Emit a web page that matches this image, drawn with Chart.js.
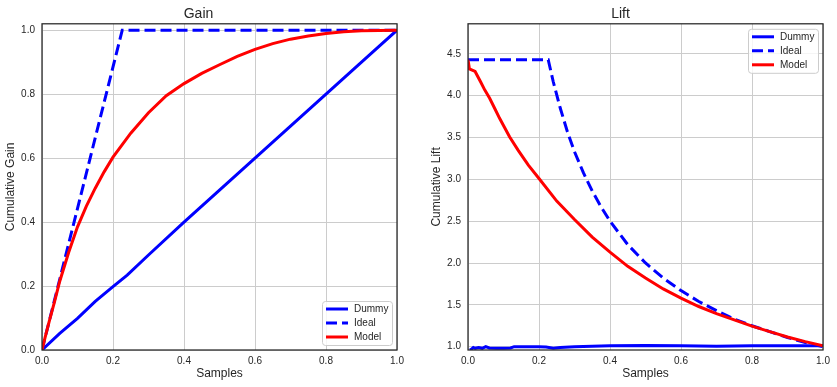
<!DOCTYPE html>
<html>
<head>
<meta charset="utf-8">
<script src="https://cdn.jsdelivr.net/npm/chart.js@4"></script>
<style>
  body { margin: 0; background: #fff; }
  #wrap { position: relative; width: 837px; height: 387px; }
  canvas { position: absolute; top: 0; }
  #gain-chart { left: 0; }
  #lift-chart { left: 418px; }
</style>
</head>
<body>
<div id="wrap">
  <canvas id="gain-chart" width="418" height="387"></canvas>
  <canvas id="lift-chart" width="419" height="387"></canvas>
</div>
<script>
// values
const xTicks = [0, 0.2, 0.4, 0.6, 0.8, 1.0];
const gainTicks = [0, 0.2, 0.4, 0.6, 0.8, 1.0];
const liftTicks = [1.0, 1.5, 2.0, 2.5, 3.0, 3.5, 4.0, 4.5];

// Gain
const dummyGainX = [0, 0.05, 0.1, 0.15, 0.2, 0.24, 0.3, 0.4, 0.5, 0.6, 0.7, 0.8, 0.9, 1.0];
const dummyGain = [0, 0.052, 0.099, 0.152, 0.198, 0.234, 0.297, 0.4, 0.5, 0.6, 0.7, 0.8, 0.9, 1.0];
const idealGainX = [0, 0.226, 1.0];
const idealGain = [0, 1.0, 1.0];
const modelGainX = [0, 0.01, 0.02, 0.035, 0.05, 0.075, 0.1, 0.125, 0.15, 0.175, 0.2, 0.25, 0.3, 0.35, 0.4, 0.45, 0.5, 0.55, 0.6, 0.65, 0.7, 0.75, 0.8, 0.85, 0.9, 1.0];
const modelGain = [0, 0.045, 0.088, 0.15, 0.215, 0.305, 0.385, 0.45, 0.506, 0.557, 0.603, 0.678, 0.742, 0.795, 0.833, 0.865, 0.892, 0.918, 0.94, 0.958, 0.972, 0.982, 0.99, 0.995, 0.998, 1.0];

// Lift
const dummyLiftX = [0.005, 0.01, 0.015, 0.02, 0.03, 0.04, 0.05, 0.06, 0.08, 0.1, 0.12, 0.13, 0.16, 0.2, 0.22, 0.24, 0.26, 0.3, 0.4, 0.5, 0.6, 0.7, 0.8, 0.9, 1.0];
const dummyLift = [0.96, 0.97, 0.99, 0.98, 0.99, 0.98, 1.0, 0.985, 0.98, 0.98, 0.985, 1.0, 1.0, 1.0, 0.995, 0.98, 0.99, 1.0, 1.01, 1.015, 1.01, 1.005, 1.01, 1.01, 1.01];
const idealLiftX = [0, 0.226, 0.24, 0.26, 0.28, 0.3, 0.325, 0.35, 0.375, 0.4, 0.45, 0.5, 0.55, 0.6, 0.65, 0.7, 0.75, 0.8, 0.85, 0.9, 0.95, 1.0];
const idealLift = [4.43, 4.43, 4.17, 3.85, 3.57, 3.33, 3.08, 2.86, 2.67, 2.5, 2.22, 2.0, 1.82, 1.67, 1.54, 1.43, 1.33, 1.25, 1.18, 1.11, 1.05, 1.0];
const modelLiftX = [0, 0.004, 0.02, 0.035, 0.047, 0.061, 0.075, 0.089, 0.103, 0.117, 0.141, 0.17, 0.2, 0.25, 0.3, 0.35, 0.4, 0.45, 0.5, 0.55, 0.6, 0.65, 0.7, 0.75, 0.8, 0.85, 0.9, 0.95, 1.0];
const modelLift = [4.43, 4.32, 4.29, 4.17, 4.07, 3.97, 3.85, 3.73, 3.62, 3.51, 3.35, 3.17, 3.01, 2.74, 2.52, 2.31, 2.13, 1.96, 1.82, 1.69, 1.58, 1.48, 1.395, 1.32, 1.245, 1.18, 1.115, 1.06, 1.01];

const FONT = '"Liberation Sans", Arial, sans-serif';
const TEXT = "#262626";
Chart.defaults.font.family = FONT;
Chart.defaults.color = TEXT;

function pts(xs, ys) {
  return xs.map((x, i) => ({ x: x, y: ys[i] }));
}

function lineSet(label, xs, ys, color, dash, order) {
  return {
    label: label,
    data: pts(xs, ys),
    borderColor: color,
    borderWidth: 3,
    borderDash: dash,
    pointRadius: 0,
    tension: 0,
    order: order,
  };
}

// frame + matplotlib-like legend inside the axes
function framePlugin(corner) {
  return {
    id: "frame",
    afterDraw(chart) {
      const { ctx, chartArea } = chart;
      ctx.save();
      ctx.strokeStyle = TEXT;
      ctx.lineWidth = 1.25;
      ctx.strokeRect(chartArea.left, chartArea.top, chartArea.right - chartArea.left, chartArea.bottom - chartArea.top);

      const w = 70, h = 44;
      const x = chartArea.right - 5 - w;
      const y = corner === "bottom" ? chartArea.bottom - 5 - h : chartArea.top + 5;
      ctx.beginPath();
      ctx.roundRect(x + 0.5, y + 0.5, w, h, 3);
      ctx.fillStyle = "rgba(255,255,255,0.8)";
      ctx.fill();
      ctx.strokeStyle = "#cccccc";
      ctx.lineWidth = 1;
      ctx.stroke();
      chart.data.datasets.forEach((ds, i) => {
        const cy = y + 8 + i * 14;
        ctx.beginPath();
        ctx.setLineDash(ds.borderDash || []);
        ctx.strokeStyle = ds.borderColor;
        ctx.lineWidth = 3;
        ctx.moveTo(x + 4, cy);
        ctx.lineTo(x + 26, cy);
        ctx.stroke();
        ctx.setLineDash([]);
        ctx.fillStyle = TEXT;
        ctx.font = "10px " + FONT;
        ctx.textBaseline = "middle";
        ctx.fillText(ds.label, x + 32, cy + 0.5);
      });
      ctx.restore();
    },
  };
}

function makeChart(canvasId, title, yLabel, datasets, yMin, yMax, yTicks, yWidth, yTitlePad, padRight, corner) {
  const ctx = document.getElementById(canvasId).getContext("2d");
  return new Chart(ctx, {
    type: "line",
    data: { datasets: datasets },
    options: {
      responsive: false,
      animation: false,
      layout: { padding: { left: 0, right: padRight, top: 0, bottom: 0 } },
      plugins: {
        legend: { display: false },
        tooltip: { enabled: false },
        title: {
          display: true,
          text: title,
          color: TEXT,
          font: { size: 14, weight: "normal" },
          padding: { top: 6, bottom: 1 },
        },
      },
      scales: {
        x: {
          type: "linear",
          min: 0,
          max: 1,
          afterBuildTicks: (scale) => { scale.ticks = xTicks.map((v) => ({ value: v })); },
          afterFit: (scale) => { scale.height = 37; },
          grid: { color: "#cccccc", drawTicks: false },
          border: { display: false },
          ticks: { padding: 5, font: { size: 10 }, color: TEXT, maxRotation: 0, callback: (v) => v.toFixed(1) },
          title: { display: true, text: "Samples", color: TEXT, font: { size: 12 }, padding: { top: 0, bottom: 6 } },
        },
        y: {
          type: "linear",
          min: yMin,
          max: yMax,
          afterBuildTicks: (scale) => { scale.ticks = yTicks.map((v) => ({ value: v })); },
          afterFit: (scale) => { scale.width = yWidth; },
          grid: { color: "#cccccc", drawTicks: false },
          border: { display: false },
          ticks: { padding: 7, font: { size: 10 }, color: TEXT, callback: (v) => v.toFixed(1) },
          title: { display: true, text: yLabel, color: TEXT, font: { size: 12 }, padding: { top: yTitlePad, bottom: 0 } },
        },
      },
    },
    plugins: [framePlugin(corner)],
  });
}

makeChart("gain-chart", "Gain", "Cumulative Gain", [
  lineSet("Dummy", dummyGainX, dummyGain, "#0000ff", [], 3),
  lineSet("Ideal", idealGainX, idealGain, "#0000ff", [11, 5], 2),
  lineSet("Model", modelGainX, modelGain, "#ff0000", [], 1),
], 0, 1.02, gainTicks, 42, 3, 21, "bottom");

makeChart("lift-chart", "Lift", "Cumulative Lift", [
  lineSet("Dummy", dummyLiftX, dummyLift, "#0000ff", [], 3),
  lineSet("Ideal", idealLiftX, idealLift, "#0000ff", [11, 5], 2),
  lineSet("Model", modelLiftX, modelLift, "#ff0000", [], 1),
], 0.96, 4.86, liftTicks, 50, 11, 14, "top");
</script>
</body>
</html>
